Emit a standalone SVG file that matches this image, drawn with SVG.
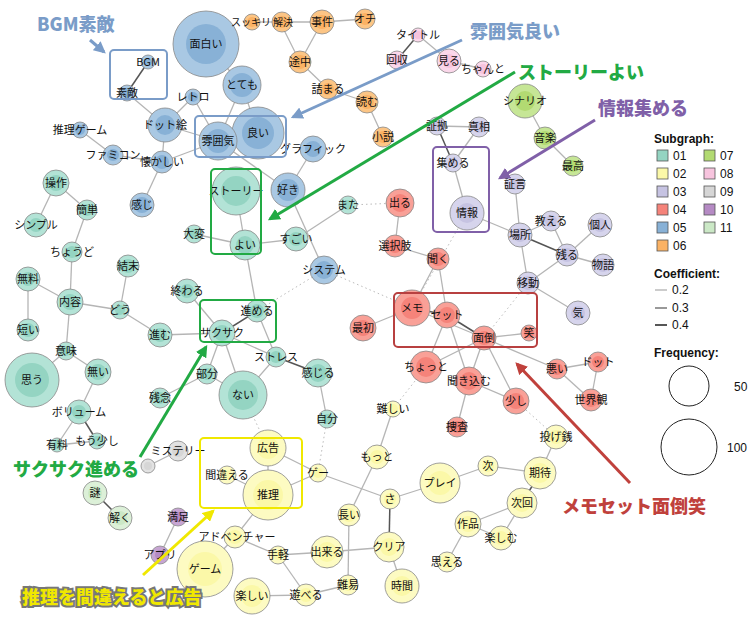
<svg xmlns="http://www.w3.org/2000/svg" width="755" height="621" viewBox="0 0 755 621">
<style>
text{font-family:"Noto Sans CJK JP","Liberation Sans",sans-serif;font-size:11px;fill:#111;text-anchor:middle}
.o{stroke:#888;stroke-width:0.8}
.i{stroke:none}
.g1 .o{fill:#b3e3d6}.g1 .i{fill:#94d4c2}
.g2 .o{fill:#fdfbc2}.g2 .i{fill:#fbf8a8}
.g3 .o{fill:#d6d4ec}.g3 .i{fill:#c6c3e2}
.g4 .o{fill:#f9a097}.g4 .i{fill:#f5837a}
.g5 .o{fill:#a9c8e3}.g5 .i{fill:#88b1d6}
.g6 .o{fill:#fcc585}.g6 .i{fill:#fbb264}
.g7 .o{fill:#c6e696}.g7 .i{fill:#b2da72}
.g8 .o{fill:#fbd7ea}.g8 .i{fill:#f7c4de}
.g9 .o{fill:#e2e2e2}.g9 .i{fill:#d6d6d6}
.g10 .o{fill:#c6a4d2}.g10 .i{fill:#b58ac4}
.g11 .o{fill:#dcf0d8}.g11 .i{fill:#cbe8c6}
#edges line{stroke:#b5b5b5;stroke-width:1.3}
#edges line.d{stroke:#555;stroke-width:1.5}
#edges line.t{stroke:#bbb;stroke-width:1;stroke-dasharray:1.5 3}
.box{fill:none;stroke-width:2;rx:4}
.call{font-weight:900;font-size:18px;stroke:#fff;stroke-width:4;paint-order:stroke;text-anchor:start;font-family:"Noto Sans CJK JP",sans-serif}
.cb{fill:#7a9cc8}.cg{fill:#22aa44}.cp{fill:#8060a8}.cr{fill:#c0413c}.cy{fill:#f0e800;stroke:#777}
.leg{font-family:"Liberation Sans",sans-serif;font-size:12px;text-anchor:start}
.legb{font-family:"Liberation Sans",sans-serif;font-size:12px;font-weight:bold;text-anchor:start}
.sm{font-size:10px}
</style>
<defs>
<marker id="ab" viewBox="0 0 10 10" refX="8" refY="5" markerWidth="4" markerHeight="4" orient="auto"><path d="M0,0L10,5L0,10z" fill="#7a9cc8"/></marker>
<marker id="ag" viewBox="0 0 10 10" refX="8" refY="5" markerWidth="4" markerHeight="4" orient="auto"><path d="M0,0L10,5L0,10z" fill="#22aa44"/></marker>
<marker id="ap" viewBox="0 0 10 10" refX="8" refY="5" markerWidth="4" markerHeight="4" orient="auto"><path d="M0,0L10,5L0,10z" fill="#8060a8"/></marker>
<marker id="ay" viewBox="0 0 10 10" refX="8" refY="5" markerWidth="4" markerHeight="4" orient="auto"><path d="M0,0L10,5L0,10z" fill="#f0e800"/></marker>
<marker id="ar" viewBox="0 0 10 10" refX="8" refY="5" markerWidth="4" markerHeight="4" orient="auto"><path d="M0,0L10,5L0,10z" fill="#c0413c"/></marker>
</defs>
<rect width="755" height="621" fill="#fff"/>
<g id="edges">
<line x1="206" y1="44" x2="242" y2="85"/><line x1="242" y1="85" x2="258" y2="133"/><line x1="242" y1="85" x2="218" y2="141"/>
<line x1="258" y1="133" x2="218" y2="141"/><line x1="218" y1="141" x2="165" y2="125"/><line x1="218" y1="141" x2="193" y2="97"/>
<line x1="193" y1="97" x2="165" y2="125"/><line x1="218" y1="141" x2="288" y2="190"/><line x1="288" y1="190" x2="313" y2="149"/>
<line x1="288" y1="190" x2="324" y2="270"/><line class="d" x1="148" y1="62" x2="127" y2="93"/><line x1="127" y1="93" x2="165" y2="125"/>
<line x1="165" y1="125" x2="162" y2="162"/><line x1="162" y1="162" x2="218" y2="141"/><line x1="162" y1="162" x2="113" y2="155"/>
<line x1="113" y1="155" x2="80" y2="130"/><line x1="162" y1="162" x2="142" y2="205"/>
<line x1="252" y1="22" x2="280" y2="22"/><line x1="280" y1="22" x2="322" y2="22"/><line x1="322" y1="22" x2="365" y2="19"/>
<line x1="322" y1="22" x2="300" y2="62"/><line x1="280" y1="22" x2="300" y2="62"/><line x1="300" y1="62" x2="328" y2="89"/>
<line x1="328" y1="89" x2="367" y2="102"/><line x1="367" y1="102" x2="383" y2="137"/>
<line class="d" x1="418" y1="35" x2="397" y2="60"/><line x1="418" y1="35" x2="449" y2="61"/><line x1="449" y1="61" x2="483" y2="69"/>
<line x1="525" y1="101" x2="545" y2="138"/><line x1="545" y1="138" x2="573" y2="166"/>
<line x1="437" y1="126" x2="479" y2="127"/><line class="d" x1="437" y1="126" x2="453" y2="163"/><line x1="479" y1="127" x2="453" y2="163"/>
<line x1="453" y1="163" x2="467" y2="213"/><line x1="467" y1="213" x2="520" y2="235"/><line x1="515" y1="184" x2="520" y2="235"/>
<line class="d" x1="520" y1="235" x2="567" y2="255"/><line x1="520" y1="235" x2="551" y2="221"/><line x1="551" y1="221" x2="567" y2="255"/>
<line x1="567" y1="255" x2="600" y2="225"/><line x1="567" y1="255" x2="603" y2="265"/><line x1="520" y1="235" x2="528" y2="283"/>
<line x1="528" y1="283" x2="567" y2="255"/><line x1="528" y1="283" x2="578" y2="313"/>
<line x1="400" y1="203" x2="395" y2="246"/><line x1="395" y1="246" x2="438" y2="259"/><line x1="438" y1="259" x2="412" y2="308"/>
<line x1="438" y1="259" x2="447" y2="315"/><line x1="412" y1="308" x2="363" y2="328"/><line class="d" x1="412" y1="308" x2="447" y2="315"/>
<line class="d" x1="447" y1="315" x2="484" y2="338"/><line x1="412" y1="308" x2="484" y2="338"/><line x1="484" y1="338" x2="529" y2="333"/>
<line x1="447" y1="315" x2="426" y2="367"/><line x1="484" y1="338" x2="426" y2="367"/><line x1="447" y1="315" x2="469" y2="381"/>
<line x1="484" y1="338" x2="469" y2="381"/><line x1="484" y1="338" x2="516" y2="401"/><line x1="469" y1="381" x2="516" y2="401"/>
<line x1="469" y1="381" x2="457" y2="427"/><line x1="484" y1="338" x2="557" y2="369"/><line x1="557" y1="369" x2="598" y2="362"/>
<line x1="598" y1="362" x2="591" y2="400"/><line x1="557" y1="369" x2="591" y2="400"/>
<line x1="236" y1="191" x2="245" y2="245"/><line x1="194" y1="234" x2="245" y2="245"/><line x1="245" y1="245" x2="296" y2="239"/>
<line x1="296" y1="239" x2="348" y2="205"/><line x1="245" y1="245" x2="257" y2="311"/><line class="d" x1="257" y1="311" x2="222" y2="333"/>
<line x1="222" y1="333" x2="160" y2="335"/><line x1="160" y1="335" x2="120" y2="310"/><line x1="120" y1="310" x2="70" y2="302"/>
<line x1="120" y1="310" x2="128" y2="266"/><line x1="70" y1="302" x2="28" y2="279"/><line x1="70" y1="302" x2="72" y2="252"/>
<line x1="72" y1="252" x2="87" y2="210"/><line x1="87" y1="210" x2="56" y2="183"/><line x1="56" y1="183" x2="36" y2="225"/>
<line x1="70" y1="302" x2="66" y2="351"/><line x1="28" y1="279" x2="28" y2="330"/><line x1="66" y1="351" x2="32" y2="380"/>
<line x1="66" y1="351" x2="98" y2="372"/><line x1="98" y1="372" x2="79" y2="412"/><line x1="79" y1="412" x2="57" y2="445"/>
<line class="d" x1="79" y1="412" x2="97" y2="441"/><line x1="57" y1="445" x2="97" y2="441"/>
<line x1="222" y1="333" x2="207" y2="374"/><line x1="222" y1="333" x2="243" y2="395"/><line x1="257" y1="311" x2="276" y2="357"/>
<line x1="222" y1="333" x2="276" y2="357"/><line class="d" x1="276" y1="357" x2="318" y2="373"/><line x1="276" y1="357" x2="243" y2="395"/>
<line x1="207" y1="374" x2="243" y2="395"/><line x1="207" y1="374" x2="160" y2="398"/><line x1="318" y1="373" x2="327" y2="419"/>
<line x1="222" y1="333" x2="187" y2="291"/>
<line class="t" x1="324" y1="270" x2="257" y2="311"/><line class="t" x1="324" y1="270" x2="412" y2="308"/><line class="t" x1="348" y1="205" x2="400" y2="203"/>
<line class="t" x1="243" y1="395" x2="268" y2="448"/><line class="t" x1="327" y1="419" x2="318" y2="473"/><line class="t" x1="426" y1="367" x2="393" y2="409"/>
<line class="t" x1="516" y1="401" x2="556" y2="437"/><line class="t" x1="528" y1="283" x2="484" y2="338"/><line class="t" x1="467" y1="213" x2="412" y2="308"/>
<line x1="268" y1="448" x2="268" y2="495"/><line x1="268" y1="448" x2="318" y2="473"/><line x1="227" y1="475" x2="268" y2="495"/>
<line x1="268" y1="495" x2="318" y2="473"/><line x1="318" y1="473" x2="390" y2="499"/><line x1="268" y1="495" x2="235" y2="537"/>
<line x1="235" y1="537" x2="278" y2="555"/><line x1="235" y1="537" x2="205" y2="569"/><line x1="278" y1="555" x2="327" y2="552"/>
<line x1="278" y1="555" x2="306" y2="595"/><line x1="252" y1="596" x2="306" y2="595"/><line x1="306" y1="595" x2="348" y2="585"/>
<line x1="348" y1="585" x2="349" y2="515"/><line x1="349" y1="515" x2="377" y2="457"/><line x1="377" y1="457" x2="393" y2="409"/>
<line x1="327" y1="552" x2="389" y2="547"/><line class="d" x1="390" y1="499" x2="389" y2="547"/><line x1="389" y1="547" x2="402" y2="586"/>
<line x1="390" y1="499" x2="440" y2="483"/><line x1="440" y1="483" x2="488" y2="466"/><line x1="488" y1="466" x2="540" y2="473"/>
<line class="d" x1="540" y1="473" x2="522" y2="503"/><line x1="540" y1="473" x2="556" y2="437"/><line x1="522" y1="503" x2="468" y2="524"/>
<line x1="522" y1="503" x2="501" y2="538"/><line x1="468" y1="524" x2="501" y2="538"/><line x1="468" y1="524" x2="447" y2="562"/>
<line x1="178" y1="451" x2="148" y2="466"/><line class="d" x1="95" y1="493" x2="120" y2="518"/><line x1="178" y1="517" x2="160" y2="555"/>
</g>
<g id="nodes">
<g id="n-omoshiroi" class="g5"><circle class="o" cx="206" cy="44" r="33"/><circle class="i" cx="206" cy="44" r="20"/><text x="206" y="48">面白い</text></g>
<g id="n-bgm" class="g5"><circle class="o" cx="148" cy="62" r="7"/><circle class="i" cx="148" cy="62" r="4"/><text x="148" y="66">BGM</text></g>
<g id="n-suteki" class="g5"><circle class="o" cx="127" cy="93" r="8"/><circle class="i" cx="127" cy="93" r="5"/><text x="127" y="97">素敵</text></g>
<g id="n-retro" class="g5"><circle class="o" cx="193" cy="97" r="8"/><circle class="i" cx="193" cy="97" r="5"/><text x="193" y="101">レトロ</text></g>
<g id="n-totemo" class="g5"><circle class="o" cx="242" cy="85" r="19"/><circle class="i" cx="242" cy="85" r="12"/><text x="242" y="89">とても</text></g>
<g id="n-yoi2" class="g5"><circle class="o" cx="258" cy="133" r="26"/><circle class="i" cx="258" cy="133" r="16"/><text x="258" y="137">良い</text></g>
<g id="n-fun" class="g5"><circle class="o" cx="218" cy="141" r="19"/><circle class="i" cx="218" cy="141" r="12"/><text x="218" y="145">雰囲気</text></g>
<g id="n-dot" class="g5"><circle class="o" cx="165" cy="125" r="17"/><circle class="i" cx="165" cy="125" r="10"/><text x="165" y="129">ドット絵</text></g>
<g id="n-suirigame" class="g5"><circle class="o" cx="80" cy="130" r="8"/><circle class="i" cx="80" cy="130" r="5"/><text x="80" y="134">推理ゲーム</text></g>
<g id="n-famicom" class="g5"><circle class="o" cx="113" cy="155" r="10"/><circle class="i" cx="113" cy="155" r="6"/><text x="113" y="159">ファミコン</text></g>
<g id="n-natsukashii" class="g5"><circle class="o" cx="162" cy="162" r="11"/><circle class="i" cx="162" cy="162" r="7"/><text x="162" y="166">懐かしい</text></g>
<g id="n-kanji" class="g5"><circle class="o" cx="142" cy="205" r="12"/><circle class="i" cx="142" cy="205" r="8"/><text x="142" y="209">感じ</text></g>
<g id="n-graphic" class="g5"><circle class="o" cx="313" cy="149" r="13"/><circle class="i" cx="313" cy="149" r="8"/><text x="313" y="153">グラフィック</text></g>
<g id="n-suki" class="g5"><circle class="o" cx="288" cy="190" r="17"/><circle class="i" cx="288" cy="190" r="11"/><text x="288" y="194">好き</text></g>
<g id="n-system" class="g5"><circle class="o" cx="324" cy="270" r="14"/><circle class="i" cx="324" cy="270" r="9"/><text x="324" y="274">システム</text></g>
<g id="n-sukkiri" class="g6"><circle class="o" cx="252" cy="22" r="8"/><circle class="i" cx="252" cy="22" r="5"/><text class="sm" x="251" y="26">スッキリ</text></g>
<g id="n-kaiketsu" class="g6"><circle class="o" cx="282" cy="22" r="10"/><circle class="i" cx="282" cy="22" r="6"/><text class="sm" x="283" y="26">解決</text></g>
<g id="n-jiken" class="g6"><circle class="o" cx="322" cy="22" r="12"/><circle class="i" cx="322" cy="22" r="7"/><text x="322" y="26">事件</text></g>
<g id="n-ochi" class="g6"><circle class="o" cx="365" cy="19" r="10"/><circle class="i" cx="365" cy="19" r="6"/><text x="365" y="23">オチ</text></g>
<g id="n-tochu" class="g6"><circle class="o" cx="300" cy="62" r="11"/><circle class="i" cx="300" cy="62" r="7"/><text x="300" y="66">途中</text></g>
<g id="n-tsumaru" class="g6"><circle class="o" cx="328" cy="89" r="10"/><circle class="i" cx="328" cy="89" r="6"/><text x="328" y="93">詰まる</text></g>
<g id="n-yomu" class="g6"><circle class="o" cx="367" cy="102" r="11"/><circle class="i" cx="367" cy="102" r="7"/><text x="367" y="106">読む</text></g>
<g id="n-shosetsu" class="g6"><circle class="o" cx="383" cy="137" r="10"/><circle class="i" cx="383" cy="137" r="6"/><text x="383" y="141">小説</text></g>
<g id="n-title" class="g8"><circle class="o" cx="418" cy="35" r="7"/><circle class="i" cx="418" cy="35" r="4"/><text x="418" y="39">タイトル</text></g>
<g id="n-kaishu" class="g8"><circle class="o" cx="397" cy="60" r="9"/><circle class="i" cx="397" cy="60" r="5"/><text x="397" y="64">回収</text></g>
<g id="n-miru" class="g8"><circle class="o" cx="449" cy="61" r="12"/><circle class="i" cx="449" cy="61" r="7"/><text x="449" y="65">見る</text></g>
<g id="n-chanto" class="g8"><circle class="o" cx="483" cy="69" r="8"/><circle class="i" cx="483" cy="69" r="5"/><text x="483" y="73">ちゃんと</text></g>
<g id="n-scenario" class="g7"><circle class="o" cx="525" cy="101" r="17"/><circle class="i" cx="525" cy="101" r="10"/><text x="525" y="105">シナリオ</text></g>
<g id="n-ongaku" class="g7"><circle class="o" cx="545" cy="138" r="11"/><circle class="i" cx="545" cy="138" r="7"/><text x="545" y="142">音楽</text></g>
<g id="n-saiko" class="g7"><circle class="o" cx="573" cy="166" r="10"/><circle class="i" cx="573" cy="166" r="6"/><text x="573" y="170">最高</text></g>
<g id="n-shoko" class="g3"><circle class="o" cx="437" cy="126" r="9"/><circle class="i" cx="437" cy="126" r="5"/><text x="437" y="130">証拠</text></g>
<g id="n-shinso" class="g3"><circle class="o" cx="479" cy="127" r="10"/><circle class="i" cx="479" cy="127" r="6"/><text x="479" y="131">真相</text></g>
<g id="n-atsumeru" class="g3"><circle class="o" cx="453" cy="163" r="9"/><circle class="i" cx="453" cy="163" r="5"/><text x="453" y="167">集める</text></g>
<g id="n-joho" class="g3"><circle class="o" cx="467" cy="213" r="17"/><circle class="i" cx="467" cy="213" r="10"/><text x="467" y="217">情報</text></g>
<g id="n-shogen" class="g3"><circle class="o" cx="515" cy="184" r="10"/><circle class="i" cx="515" cy="184" r="6"/><text x="515" y="188">証言</text></g>
<g id="n-basho" class="g3"><circle class="o" cx="520" cy="235" r="12"/><circle class="i" cx="520" cy="235" r="7"/><text x="520" y="239">場所</text></g>
<g id="n-oshieru" class="g3"><circle class="o" cx="551" cy="221" r="10"/><circle class="i" cx="551" cy="221" r="6"/><text x="551" y="225">教える</text></g>
<g id="n-kojin" class="g3"><circle class="o" cx="600" cy="225" r="12"/><circle class="i" cx="600" cy="225" r="7"/><text x="600" y="229">個人</text></g>
<g id="n-nokoru" class="g3"><circle class="o" cx="567" cy="255" r="11"/><circle class="i" cx="567" cy="255" r="7"/><text x="567" y="259">残る</text></g>
<g id="n-monogatari" class="g3"><circle class="o" cx="603" cy="265" r="11"/><circle class="i" cx="603" cy="265" r="7"/><text x="603" y="269">物語</text></g>
<g id="n-ido" class="g3"><circle class="o" cx="528" cy="283" r="11"/><circle class="i" cx="528" cy="283" r="7"/><text x="528" y="287">移動</text></g>
<g id="n-ki" class="g3"><circle class="o" cx="578" cy="313" r="12"/><circle class="i" cx="578" cy="313" r="7"/><text x="578" y="317">気</text></g>
<g id="n-deru" class="g4"><circle class="o" cx="400" cy="203" r="14"/><circle class="i" cx="400" cy="203" r="9"/><text x="400" y="207">出る</text></g>
<g id="n-sentakushi" class="g4"><circle class="o" cx="395" cy="246" r="11"/><circle class="i" cx="395" cy="246" r="7"/><text x="395" y="250">選択肢</text></g>
<g id="n-kiku" class="g4"><circle class="o" cx="438" cy="259" r="11"/><circle class="i" cx="438" cy="259" r="7"/><text x="438" y="263">聞く</text></g>
<g id="n-memo" class="g4"><circle class="o" cx="412" cy="308" r="18"/><circle class="i" cx="412" cy="308" r="11"/><text x="412" y="312">メモ</text></g>
<g id="n-set" class="g4"><circle class="o" cx="447" cy="315" r="13"/><circle class="i" cx="447" cy="315" r="8"/><text x="447" y="319">セット</text></g>
<g id="n-mendo" class="g4"><circle class="o" cx="484" cy="338" r="12"/><circle class="i" cx="484" cy="338" r="7"/><text x="484" y="342">面倒</text></g>
<g id="n-warai" class="g4"><circle class="o" cx="529" cy="333" r="8"/><circle class="i" cx="529" cy="333" r="5"/><text x="529" y="337">笑</text></g>
<g id="n-saisho" class="g4"><circle class="o" cx="363" cy="328" r="13"/><circle class="i" cx="363" cy="328" r="8"/><text x="363" y="332">最初</text></g>
<g id="n-chotto" class="g4"><circle class="o" cx="426" cy="367" r="16"/><circle class="i" cx="426" cy="367" r="10"/><text x="426" y="371">ちょっと</text></g>
<g id="n-kikikomu" class="g4"><circle class="o" cx="469" cy="381" r="14"/><circle class="i" cx="469" cy="381" r="9"/><text x="469" y="385">聞き込む</text></g>
<g id="n-sukoshi" class="g4"><circle class="o" cx="516" cy="401" r="13"/><circle class="i" cx="516" cy="401" r="8"/><text x="516" y="405">少し</text></g>
<g id="n-sosa" class="g4"><circle class="o" cx="457" cy="427" r="10"/><circle class="i" cx="457" cy="427" r="6"/><text x="457" y="431">捜査</text></g>
<g id="n-warui" class="g4"><circle class="o" cx="557" cy="369" r="10"/><circle class="i" cx="557" cy="369" r="6"/><text x="557" y="373">悪い</text></g>
<g id="n-dotto" class="g4"><circle class="o" cx="598" cy="362" r="10"/><circle class="i" cx="598" cy="362" r="6"/><text x="598" y="366">ドット</text></g>
<g id="n-sekaikan" class="g4"><circle class="o" cx="591" cy="400" r="11"/><circle class="i" cx="591" cy="400" r="7"/><text x="591" y="404">世界観</text></g>
<g id="n-story" class="g1"><circle class="o" cx="236" cy="191" r="24"/><circle class="i" cx="236" cy="191" r="15"/><text x="236" y="195">ストーリー</text></g>
<g id="n-yoi" class="g1"><circle class="o" cx="245" cy="245" r="15"/><circle class="i" cx="245" cy="245" r="9"/><text x="245" y="249">よい</text></g>
<g id="n-taihen" class="g1"><circle class="o" cx="194" cy="234" r="9"/><circle class="i" cx="194" cy="234" r="5"/><text x="194" y="238">大変</text></g>
<g id="n-sugoi" class="g1"><circle class="o" cx="296" cy="239" r="12"/><circle class="i" cx="296" cy="239" r="7"/><text x="296" y="243">すごい</text></g>
<g id="n-mata" class="g1"><circle class="o" cx="348" cy="205" r="9"/><circle class="i" cx="348" cy="205" r="5"/><text x="348" y="209">また</text></g>
<g id="n-sosa2" class="g1"><circle class="o" cx="56" cy="183" r="13"/><circle class="i" cx="56" cy="183" r="8"/><text x="56" y="187">操作</text></g>
<g id="n-kantan" class="g1"><circle class="o" cx="87" cy="210" r="10"/><circle class="i" cx="87" cy="210" r="6"/><text x="87" y="214">簡単</text></g>
<g id="n-simple" class="g1"><circle class="o" cx="36" cy="225" r="12"/><circle class="i" cx="36" cy="225" r="7"/><text x="36" y="229">シンプル</text></g>
<g id="n-chodo" class="g1"><circle class="o" cx="72" cy="252" r="10"/><circle class="i" cx="72" cy="252" r="6"/><text x="72" y="256">ちょうど</text></g>
<g id="n-muryo" class="g1"><circle class="o" cx="28" cy="279" r="12"/><circle class="i" cx="28" cy="279" r="7"/><text x="28" y="283">無料</text></g>
<g id="n-naiyo" class="g1"><circle class="o" cx="70" cy="302" r="13"/><circle class="i" cx="70" cy="302" r="8"/><text x="70" y="306">内容</text></g>
<g id="n-ketsumatsu" class="g1"><circle class="o" cx="128" cy="266" r="11"/><circle class="i" cx="128" cy="266" r="7"/><text x="128" y="270">結末</text></g>
<g id="n-do" class="g1"><circle class="o" cx="120" cy="310" r="9"/><circle class="i" cx="120" cy="310" r="5"/><text x="120" y="314">どう</text></g>
<g id="n-owaru" class="g1"><circle class="o" cx="187" cy="291" r="12"/><circle class="i" cx="187" cy="291" r="7"/><text x="187" y="295">終わる</text></g>
<g id="n-susumeru" class="g1"><circle class="o" cx="257" cy="311" r="11"/><circle class="i" cx="257" cy="311" r="7"/><text x="257" y="315">進める</text></g>
<g id="n-sakusaku" class="g1"><circle class="o" cx="222" cy="333" r="13"/><circle class="i" cx="222" cy="333" r="8"/><text x="222" y="337">サクサク</text></g>
<g id="n-susumu" class="g1"><circle class="o" cx="160" cy="335" r="12"/><circle class="i" cx="160" cy="335" r="7"/><text x="160" y="339">進む</text></g>
<g id="n-mijikai" class="g1"><circle class="o" cx="28" cy="330" r="11"/><circle class="i" cx="28" cy="330" r="7"/><text x="28" y="334">短い</text></g>
<g id="n-imi" class="g1"><circle class="o" cx="66" cy="351" r="9"/><circle class="i" cx="66" cy="351" r="5"/><text x="66" y="355">意味</text></g>
<g id="n-omou" class="g1"><circle class="o" cx="32" cy="380" r="27"/><circle class="i" cx="32" cy="380" r="17"/><text x="32" y="384">思う</text></g>
<g id="n-nai2" class="g1"><circle class="o" cx="98" cy="372" r="13"/><circle class="i" cx="98" cy="372" r="8"/><text x="98" y="376">無い</text></g>
<g id="n-stress" class="g1"><circle class="o" cx="276" cy="357" r="10"/><circle class="i" cx="276" cy="357" r="6"/><text x="276" y="361">ストレス</text></g>
<g id="n-kanjiru" class="g1"><circle class="o" cx="318" cy="373" r="14"/><circle class="i" cx="318" cy="373" r="9"/><text x="318" y="377">感じる</text></g>
<g id="n-bubun" class="g1"><circle class="o" cx="207" cy="374" r="10"/><circle class="i" cx="207" cy="374" r="6"/><text x="207" y="378">部分</text></g>
<g id="n-nai" class="g1"><circle class="o" cx="243" cy="395" r="24"/><circle class="i" cx="243" cy="395" r="15"/><text x="243" y="399">ない</text></g>
<g id="n-zannen" class="g1"><circle class="o" cx="160" cy="398" r="10"/><circle class="i" cx="160" cy="398" r="6"/><text x="160" y="402">残念</text></g>
<g id="n-volume" class="g1"><circle class="o" cx="79" cy="412" r="12"/><circle class="i" cx="79" cy="412" r="7"/><text x="79" y="416">ボリューム</text></g>
<g id="n-yuryo" class="g1"><circle class="o" cx="57" cy="445" r="7"/><circle class="i" cx="57" cy="445" r="4"/><text x="57" y="449">有料</text></g>
<g id="n-mosukoshi" class="g1"><circle class="o" cx="97" cy="441" r="8"/><circle class="i" cx="97" cy="441" r="5"/><text x="97" y="445">もう少し</text></g>
<g id="n-jibun" class="g1"><circle class="o" cx="327" cy="419" r="9"/><circle class="i" cx="327" cy="419" r="5"/><text x="327" y="423">自分</text></g>
<g id="n-mystery" class="g9"><circle class="o" cx="178" cy="451" r="10"/><circle class="i" cx="178" cy="451" r="6"/><text x="178" y="455">ミステリー</text></g>
<g id="n-re" class="g9"><circle class="o" cx="148" cy="466" r="7"/><circle class="i" cx="148" cy="466" r="4"/></g>
<g id="n-nazo" class="g11"><circle class="o" cx="95" cy="493" r="12"/><circle class="i" cx="95" cy="493" r="7"/><text x="95" y="497">謎</text></g>
<g id="n-toku" class="g11"><circle class="o" cx="120" cy="518" r="12"/><circle class="i" cx="120" cy="518" r="7"/><text x="120" y="522">解く</text></g>
<g id="n-manzoku" class="g10"><circle class="o" cx="178" cy="517" r="9"/><circle class="i" cx="178" cy="517" r="5"/><text x="178" y="521">満足</text></g>
<g id="n-app" class="g10"><circle class="o" cx="160" cy="555" r="9"/><circle class="i" cx="160" cy="555" r="5"/><text x="160" y="559">アプリ</text></g>
<g id="n-kokoku" class="g2"><circle class="o" cx="268" cy="448" r="18"/><circle class="i" cx="268" cy="448" r="11"/><text x="268" y="452">広告</text></g>
<g id="n-machigaeru" class="g2"><circle class="o" cx="227" cy="475" r="9"/><circle class="i" cx="227" cy="475" r="5"/><text x="227" y="479">間違える</text></g>
<g id="n-suiri" class="g2"><circle class="o" cx="268" cy="495" r="25"/><circle class="i" cx="268" cy="495" r="15"/><text x="268" y="499">推理</text></g>
<g id="n-ge" class="g2"><circle class="o" cx="318" cy="473" r="9"/><circle class="i" cx="318" cy="473" r="5"/><text x="318" y="477">ゲー</text></g>
<g id="n-motto" class="g2"><circle class="o" cx="377" cy="457" r="12"/><circle class="i" cx="377" cy="457" r="7"/><text x="377" y="461">もっと</text></g>
<g id="n-muzukashii" class="g2"><circle class="o" cx="393" cy="409" r="8"/><circle class="i" cx="393" cy="409" r="5"/><text x="393" y="413">難しい</text></g>
<g id="n-play" class="g2"><circle class="o" cx="440" cy="483" r="20"/><circle class="i" cx="440" cy="483" r="12"/><text x="440" y="487">プレイ</text></g>
<g id="n-tsugi" class="g2"><circle class="o" cx="488" cy="466" r="10"/><circle class="i" cx="488" cy="466" r="6"/><text x="488" y="470">次</text></g>
<g id="n-kitai" class="g2"><circle class="o" cx="540" cy="473" r="16"/><circle class="i" cx="540" cy="473" r="10"/><text x="540" y="477">期待</text></g>
<g id="n-nagesen" class="g2"><circle class="o" cx="556" cy="437" r="12"/><circle class="i" cx="556" cy="437" r="7"/><text x="556" y="441">投げ銭</text></g>
<g id="n-jikai" class="g2"><circle class="o" cx="522" cy="503" r="15"/><circle class="i" cx="522" cy="503" r="9"/><text x="522" y="507">次回</text></g>
<g id="n-sakuhin" class="g2"><circle class="o" cx="468" cy="524" r="13"/><circle class="i" cx="468" cy="524" r="8"/><text x="468" y="528">作品</text></g>
<g id="n-tanoshimu" class="g2"><circle class="o" cx="501" cy="538" r="12"/><circle class="i" cx="501" cy="538" r="7"/><text x="501" y="542">楽しむ</text></g>
<g id="n-omoeru" class="g2"><circle class="o" cx="447" cy="562" r="10"/><circle class="i" cx="447" cy="562" r="6"/><text x="447" y="566">思える</text></g>
<g id="n-sa" class="g2"><circle class="o" cx="390" cy="499" r="10"/><circle class="i" cx="390" cy="499" r="6"/><text x="390" y="503">さ</text></g>
<g id="n-nagai" class="g2"><circle class="o" cx="349" cy="515" r="11"/><circle class="i" cx="349" cy="515" r="7"/><text x="349" y="519">長い</text></g>
<g id="n-clear" class="g2"><circle class="o" cx="389" cy="547" r="15"/><circle class="i" cx="389" cy="547" r="9"/><text x="389" y="551">クリア</text></g>
<g id="n-jikan" class="g2"><circle class="o" cx="402" cy="586" r="17"/><circle class="i" cx="402" cy="586" r="10"/><text x="402" y="590">時間</text></g>
<g id="n-dekiru" class="g2"><circle class="o" cx="327" cy="552" r="16"/><circle class="i" cx="327" cy="552" r="10"/><text x="327" y="556">出来る</text></g>
<g id="n-nani" class="g2"><circle class="o" cx="348" cy="585" r="10"/><circle class="i" cx="348" cy="585" r="6"/><text x="348" y="589">難易</text></g>
<g id="n-tegaru" class="g2"><circle class="o" cx="278" cy="555" r="9"/><circle class="i" cx="278" cy="555" r="5"/><text x="278" y="559">手軽</text></g>
<g id="n-adventure" class="g2"><circle class="o" cx="235" cy="537" r="11"/><circle class="i" cx="235" cy="537" r="7"/><text x="237" y="541">アドベンチャー</text></g>
<g id="n-game" class="g2"><circle class="o" cx="205" cy="569" r="28"/><circle class="i" cx="205" cy="569" r="17"/><text x="205" y="573">ゲーム</text></g>
<g id="n-tanoshii" class="g2"><circle class="o" cx="252" cy="596" r="18"/><circle class="i" cx="252" cy="596" r="11"/><text x="252" y="600">楽しい</text></g>
<g id="n-asoberu" class="g2"><circle class="o" cx="306" cy="595" r="11"/><circle class="i" cx="306" cy="595" r="7"/><text x="306" y="599">遊べる</text></g>
</g>
<g id="boxes">
<rect class="box" x="110" y="50" width="57" height="49" stroke="#7a9cc8"/>
<rect class="box" x="195" y="116" width="91" height="41" stroke="#7a9cc8"/>
<rect class="box" x="211" y="169" width="50" height="85" stroke="#22aa44"/>
<rect class="box" x="200" y="300" width="76" height="42" stroke="#22aa44"/>
<rect class="box" x="433" y="147" width="56" height="85" stroke="#8060a8"/>
<rect class="box" x="394" y="293" width="143" height="54" stroke="#b84040"/>
<rect class="box" x="200" y="438" width="102" height="70" stroke="#f0e800"/>
</g>
<g id="callouts">
<line x1="90" y1="40" x2="104" y2="52" stroke="#7a9cc8" stroke-width="3" marker-end="url(#ab)"/>
<text class="call cb" x="37" y="31">BGM素敵</text>
<line x1="462" y1="40" x2="293" y2="117" stroke="#7a9cc8" stroke-width="3" marker-end="url(#ab)"/>
<text class="call cb" x="470" y="38">雰囲気良い</text>
<line x1="515" y1="72" x2="270" y2="219" stroke="#22aa44" stroke-width="3" marker-end="url(#ag)"/>
<text class="call cg" x="518" y="79">ストーリーよい</text>
<line x1="595" y1="120" x2="500" y2="178" stroke="#8060a8" stroke-width="3" marker-end="url(#ap)"/>
<text class="call cp" x="598" y="115">情報集める</text>
<line x1="140" y1="457" x2="206" y2="347" stroke="#22aa44" stroke-width="3" marker-end="url(#ag)"/>
<text class="call cg" x="13" y="476">サクサク進める</text>
<line x1="143" y1="575" x2="213" y2="511" stroke="#f0e800" stroke-width="3" marker-end="url(#ay)"/>
<text class="call cy" x="22" y="604">推理を間違えると広告</text>
<line x1="630" y1="483" x2="517" y2="364" stroke="#c0413c" stroke-width="3" marker-end="url(#ar)"/>
<text class="call cr" x="562" y="513">メモセット面倒笑</text>
</g>
<g id="legend">
<text class="legb" x="654" y="143">Subgraph:</text>
<g stroke="#555" stroke-width="0.8">
<rect x="657" y="150" width="11" height="11" fill="#94d4c2"/><rect x="657" y="168" width="11" height="11" fill="#fbf8a8"/>
<rect x="657" y="186" width="11" height="11" fill="#c6c3e2"/><rect x="657" y="204" width="11" height="11" fill="#f5837a"/>
<rect x="657" y="222" width="11" height="11" fill="#88b1d6"/><rect x="657" y="240" width="11" height="11" fill="#fbb264"/>
<rect x="704" y="150" width="11" height="11" fill="#b2da72"/><rect x="704" y="168" width="11" height="11" fill="#f7c4de"/>
<rect x="704" y="186" width="11" height="11" fill="#d6d6d6"/><rect x="704" y="204" width="11" height="11" fill="#b58ac4"/>
<rect x="704" y="222" width="11" height="11" fill="#cbe8c6"/>
</g>
<text class="leg" x="673" y="160">01</text><text class="leg" x="673" y="178">02</text><text class="leg" x="673" y="196">03</text>
<text class="leg" x="673" y="214">04</text><text class="leg" x="673" y="232">05</text><text class="leg" x="673" y="250">06</text>
<text class="leg" x="720" y="160">07</text><text class="leg" x="720" y="178">08</text><text class="leg" x="720" y="196">09</text>
<text class="leg" x="720" y="214">10</text><text class="leg" x="720" y="232">11</text>
<text class="legb" x="654" y="278">Coefficient:</text>
<line x1="655" y1="290" x2="667" y2="290" stroke="#aaa" stroke-width="1.2"/><text class="leg" x="672" y="294">0.2</text>
<line x1="655" y1="308" x2="667" y2="308" stroke="#777" stroke-width="1.5"/><text class="leg" x="672" y="312">0.3</text>
<line x1="655" y1="325" x2="667" y2="325" stroke="#444" stroke-width="1.8"/><text class="leg" x="672" y="329">0.4</text>
<text class="legb" x="654" y="357">Frequency:</text>
<circle cx="689" cy="386" r="20" fill="none" stroke="#222"/><text class="leg" x="734" y="391">50</text>
<circle cx="689" cy="447" r="28" fill="none" stroke="#222"/><text class="leg" x="727" y="452">100</text>
</g>
</svg>
